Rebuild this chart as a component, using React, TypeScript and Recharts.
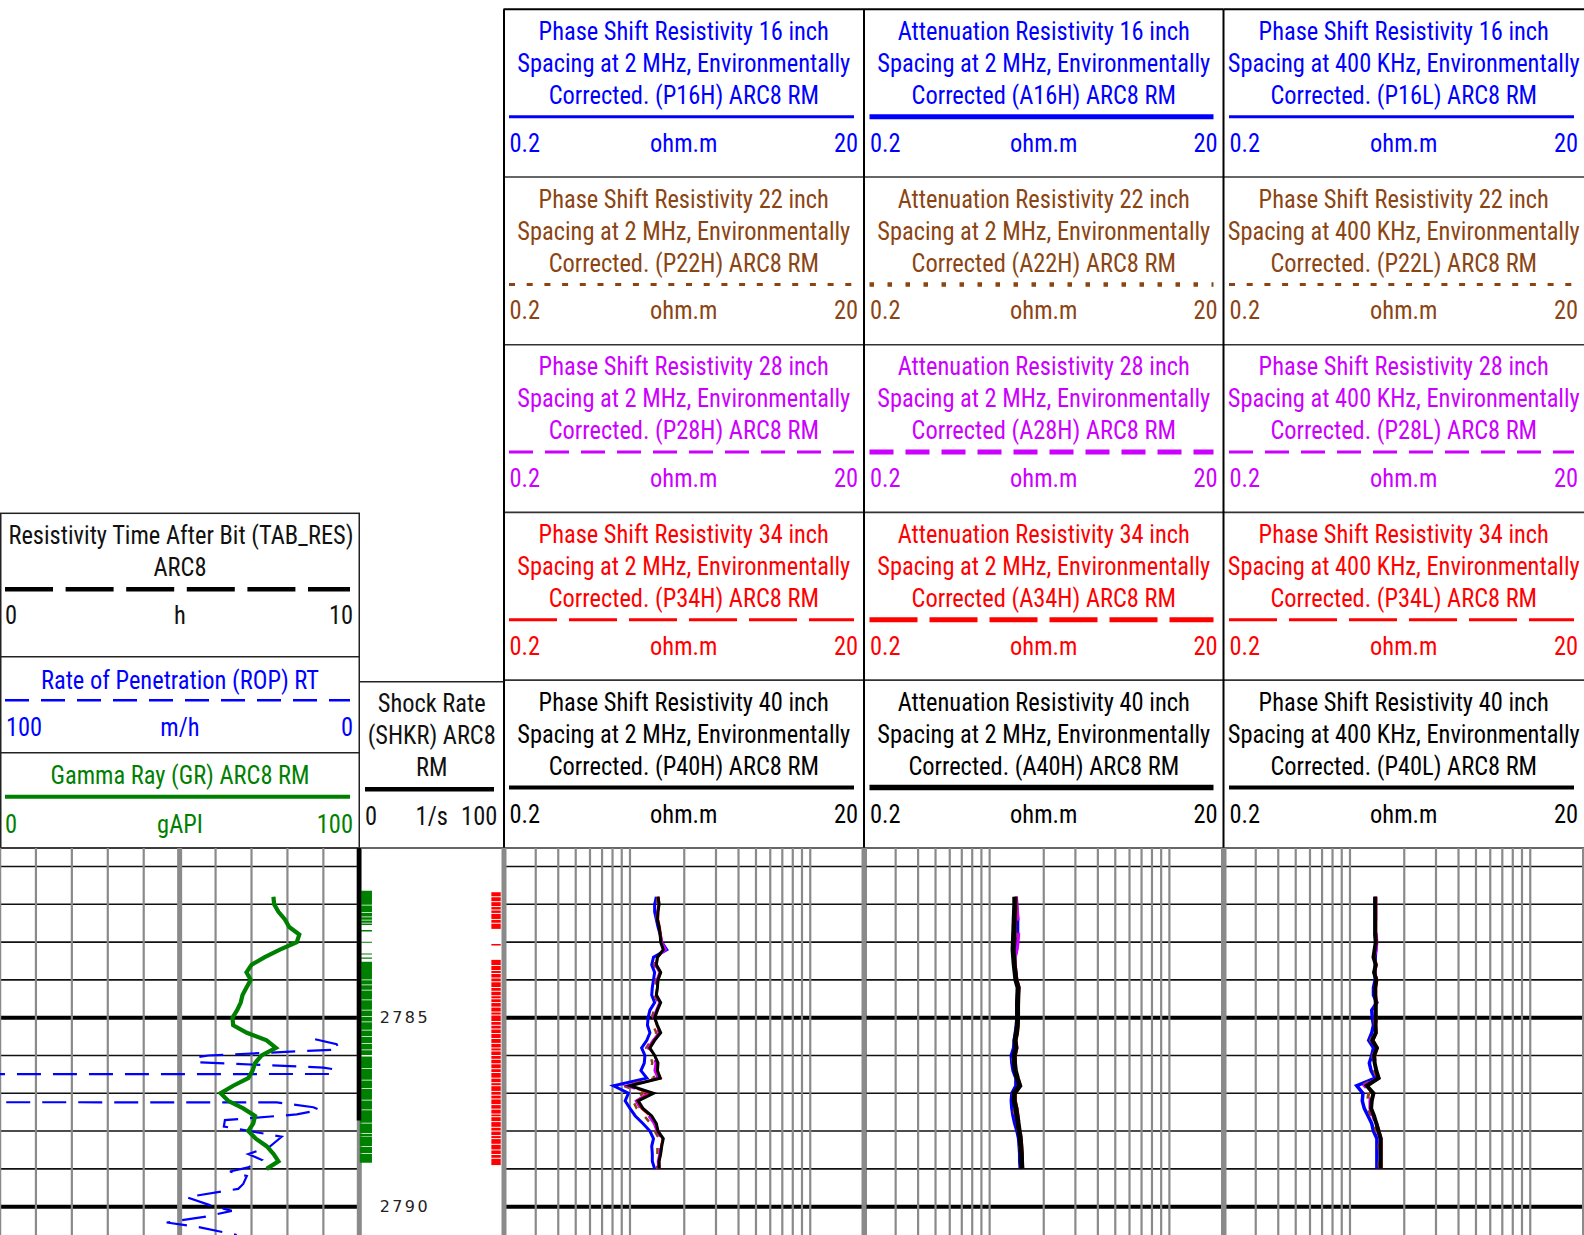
import React from "react";
import { LineChart, Line, XAxis, YAxis, ReferenceLine, ReferenceArea } from "recharts";

const FONT = '"Liberation Sans Narrow", "Arial Narrow", "Roboto Condensed", "DejaVu Sans Condensed", sans-serif';
const SX = 0.94; // horizontal squeeze so the narrow font matches the condensed original
const W = 1584;
const H = 1235;
const PLOT_TOP = 848;
const PLOT_H = H - PLOT_TOP;
const PAD = 6;
const DEPTH_DOMAIN: [number, number] = [2780.51, 2790.75];

// grid + depth labels
const FOOT_LINES = [2781, 2782, 2783, 2784, 2786, 2787, 2788, 2789];
const FIVE_FOOT_LINES = [2785, 2790];
const DEPTH_LABELS = [2785, 2790];
const LOG_GRID = [0.3, 0.4, 0.5, 0.6, 0.7, 0.8, 0.9, 1, 2, 3, 4, 5, 6, 7, 8, 9, 10];
const LIN_GRID = [10, 20, 30, 40, 60, 70, 80, 90];

// depth index shared by GR and the resistivity curves (ft)
const CURVE_DEPTH = [
  2781.8, 2782.0, 2782.2, 2782.4, 2782.6, 2782.8, 2783.0, 2783.2, 2783.4, 2783.6,
  2783.8, 2784.0, 2784.2, 2784.4, 2784.6, 2784.8, 2785.0, 2785.2, 2785.4, 2785.6,
  2785.8, 2786.0, 2786.2, 2786.4, 2786.6, 2786.8, 2787.0, 2787.2, 2787.4, 2787.6,
  2787.8, 2788.0, 2788.2, 2788.4, 2788.6, 2788.8, 2789.0,
];

// gamma ray, gAPI
const GR = [
  76.1, 76.3, 77.5, 79.3, 80.5, 83.3, 82.6, 77.9, 73.7, 70.0, 68.6, 69.8, 68.6, 67.5, 67.0, 66.0, 64.7, 64.9, 68.7,
  74.2, 76.8, 72.8, 71.0, 70.3, 69.1, 64.9, 61.4, 63.5, 67.7, 71.0, 70.5, 69.1, 71.2, 74.2, 76.1, 77.5, 74.2,
];

// rate of penetration, m/h (300 = off scale)
const ROP_DEPTH = [
  2785.57, 2785.7, 2785.84, 2786.0, 2786.05, 2786.18, 2786.32, 2786.37, 2786.49, 2786.5, 2787.23, 2787.24,
  2787.37, 2787.44, 2787.56, 2787.71, 2787.88, 2788.15, 2788.41, 2788.61, 2788.76, 2788.96, 2789.07, 2789.19,
  2789.4, 2789.53, 2789.6, 2789.75, 2789.96, 2790.11, 2790.26, 2790.42, 2790.53, 2790.75,
];
const ROP = [
  12.3, 6.3, 5.6, 42.0, 45.4, 45.3, 10.0, 6.8, 7.2, 300, 300, 23.0, 12.8, 11.1, 17.4, 37.4, 37.7, 21.6, 24.9,
  30.9, 27.2, 30.9, 36.0, 31.3, 32.3, 33.7, 38.3, 48.0, 41.6, 35.5, 42.5, 53.6, 45.3, 34.1,
];

// shock rate, 1/s
const SHKR_DEPTH = [2780.51, 2782.0, 2784.0, 2786.0, 2787.72];
const SHKR = [0, 0, 0, 0, 0];

// flag runs in the depth track (ft) and the thin breaks inside them
const GREEN_RUNS: [number, number][] = [
  [2781.64, 2782.01], [2782.03, 2782.21], [2782.23, 2782.32], [2782.34, 2782.41], [2782.43, 2782.49],
  [2782.51, 2782.55], [2782.68, 2782.72], [2782.99, 2783.02], [2783.3, 2783.33], [2783.41, 2783.44],
  [2783.52, 2785.99], [2786.03, 2788.84],
];
const GREEN_BREAKS = [
  2784.0, 2784.13, 2784.27, 2784.53, 2784.8, 2784.97, 2785.11, 2785.33, 2785.5, 2785.68, 2785.85, 2786.34,
  2786.65, 2786.87, 2787.18, 2787.44, 2787.79, 2788.06, 2788.15, 2788.41, 2788.59,
];
const RED_RUNS: [number, number][] = [[2781.68, 2782.65], [2783.05, 2783.09], [2783.47, 2788.9]];
const RED_BREAKS = [
  2781.8, 2781.93, 2782.06, 2782.15, 2782.24, 2782.4, 2782.5, 2783.62, 2783.75, 2783.83, 2783.95, 2784.05,
  2784.2, 2784.3, 2784.42, 2784.5, 2784.6, 2784.72, 2784.85, 2784.93, 2785.1, 2785.2, 2785.3, 2785.42, 2785.55,
  2785.68, 2785.8, 2785.88, 2786.0, 2786.1, 2786.22, 2786.35, 2786.45, 2786.6, 2786.72, 2786.8, 2786.95, 2787.05,
  2787.15, 2787.3, 2787.42, 2787.55, 2787.62, 2787.75, 2787.9, 2788.0, 2788.12, 2788.2, 2788.35, 2788.5, 2788.62,
  2788.72,
];

// phase shift 2 MHz, ohm.m
const P16H = [1.40, 1.37, 1.37, 1.40, 1.43, 1.47, 1.50, 1.60, 1.35, 1.32, 1.37, 1.35, 1.33, 1.32, 1.37, 1.29, 1.26, 1.25, 1.29, 1.24, 1.16, 1.21, 1.20, 1.15, 1.24, 0.81, 0.98, 0.94, 1.00, 1.07, 1.18, 1.29, 1.35, 1.32, 1.33, 1.33, 1.37];
const P22H = [1.42, 1.41, 1.40, 1.41, 1.44, 1.47, 1.49, 1.56, 1.39, 1.36, 1.43, 1.39, 1.38, 1.36, 1.43, 1.36, 1.32, 1.34, 1.40, 1.31, 1.23, 1.30, 1.33, 1.30, 1.37, 0.92, 1.18, 1.04, 1.09, 1.20, 1.30, 1.37, 1.45, 1.42, 1.42, 1.40, 1.42];
const P28H = [1.43, 1.44, 1.42, 1.42, 1.45, 1.48, 1.50, 1.58, 1.40, 1.38, 1.46, 1.41, 1.40, 1.38, 1.46, 1.40, 1.35, 1.39, 1.45, 1.34, 1.26, 1.34, 1.39, 1.37, 1.43, 0.96, 1.26, 1.08, 1.14, 1.27, 1.36, 1.41, 1.50, 1.47, 1.46, 1.43, 1.44];
const P34H = [1.44, 1.45, 1.43, 1.43, 1.46, 1.48, 1.49, 1.56, 1.42, 1.40, 1.48, 1.43, 1.42, 1.40, 1.48, 1.42, 1.37, 1.41, 1.47, 1.36, 1.28, 1.36, 1.42, 1.41, 1.48, 0.98, 1.31, 1.10, 1.16, 1.30, 1.39, 1.43, 1.52, 1.49, 1.48, 1.45, 1.46];
const P40H = [1.43, 1.45, 1.43, 1.42, 1.45, 1.47, 1.48, 1.53, 1.42, 1.40, 1.48, 1.43, 1.42, 1.40, 1.48, 1.42, 1.37, 1.42, 1.48, 1.37, 1.29, 1.37, 1.43, 1.42, 1.47, 1.00, 1.35, 1.11, 1.18, 1.32, 1.40, 1.43, 1.53, 1.50, 1.48, 1.45, 1.45];

// attenuation 2 MHz, ohm.m
const A16H = [1.40, 1.41, 1.42, 1.43, 1.43, 1.43, 1.42, 1.41, 1.38, 1.38, 1.39, 1.41, 1.44, 1.43, 1.42, 1.42, 1.42, 1.41, 1.39, 1.37, 1.36, 1.32, 1.33, 1.35, 1.40, 1.40, 1.33, 1.32, 1.33, 1.35, 1.38, 1.42, 1.45, 1.46, 1.47, 1.47, 1.48];
const A22H = [1.39, 1.39, 1.40, 1.40, 1.40, 1.40, 1.39, 1.38, 1.37, 1.37, 1.39, 1.40, 1.44, 1.43, 1.42, 1.42, 1.42, 1.41, 1.40, 1.38, 1.38, 1.34, 1.35, 1.37, 1.41, 1.43, 1.35, 1.34, 1.36, 1.38, 1.41, 1.44, 1.46, 1.47, 1.48, 1.49, 1.49];
const A28H = [1.41, 1.42, 1.43, 1.44, 1.45, 1.45, 1.44, 1.42, 1.39, 1.39, 1.40, 1.41, 1.44, 1.44, 1.43, 1.43, 1.43, 1.42, 1.40, 1.39, 1.39, 1.36, 1.36, 1.38, 1.42, 1.45, 1.36, 1.35, 1.38, 1.40, 1.42, 1.45, 1.47, 1.48, 1.49, 1.50, 1.50];
const A34H = [1.40, 1.40, 1.40, 1.39, 1.39, 1.38, 1.38, 1.37, 1.38, 1.39, 1.40, 1.42, 1.46, 1.45, 1.45, 1.45, 1.45, 1.44, 1.43, 1.40, 1.42, 1.39, 1.39, 1.41, 1.44, 1.48, 1.39, 1.39, 1.42, 1.44, 1.46, 1.48, 1.50, 1.51, 1.52, 1.52, 1.53];
const A40H = [1.38, 1.38, 1.375, 1.37, 1.365, 1.36, 1.355, 1.35, 1.36, 1.37, 1.385, 1.40, 1.44, 1.435, 1.43, 1.43, 1.43, 1.425, 1.41, 1.385, 1.40, 1.37, 1.375, 1.39, 1.425, 1.47, 1.37, 1.37, 1.40, 1.42, 1.44, 1.46, 1.48, 1.49, 1.50, 1.505, 1.51];

// phase shift 400 kHz, ohm.m
const P16L = [1.38, 1.38, 1.38, 1.38, 1.38, 1.38, 1.39, 1.39, 1.38, 1.38, 1.38, 1.38, 1.35, 1.35, 1.41, 1.32, 1.33, 1.35, 1.32, 1.27, 1.35, 1.32, 1.28, 1.31, 1.38, 1.09, 1.18, 1.17, 1.20, 1.26, 1.32, 1.35, 1.41, 1.41, 1.41, 1.41, 1.41];
const P22L = [1.38, 1.38, 1.38, 1.38, 1.38, 1.38, 1.39, 1.38, 1.36, 1.38, 1.37, 1.39, 1.37, 1.37, 1.40, 1.36, 1.36, 1.37, 1.36, 1.30, 1.38, 1.34, 1.33, 1.36, 1.41, 1.16, 1.27, 1.25, 1.26, 1.31, 1.36, 1.40, 1.45, 1.45, 1.45, 1.45, 1.45];
const P28L = [1.39, 1.39, 1.39, 1.39, 1.39, 1.40, 1.41, 1.40, 1.36, 1.39, 1.37, 1.40, 1.38, 1.38, 1.39, 1.38, 1.38, 1.38, 1.38, 1.32, 1.40, 1.35, 1.35, 1.38, 1.43, 1.20, 1.31, 1.29, 1.29, 1.34, 1.38, 1.42, 1.47, 1.47, 1.47, 1.47, 1.47];
const P34L = [1.39, 1.39, 1.39, 1.39, 1.39, 1.39, 1.40, 1.38, 1.36, 1.40, 1.37, 1.41, 1.39, 1.39, 1.40, 1.40, 1.40, 1.39, 1.40, 1.34, 1.42, 1.37, 1.38, 1.40, 1.45, 1.23, 1.34, 1.32, 1.31, 1.36, 1.41, 1.45, 1.49, 1.49, 1.49, 1.49, 1.49];
const P40L = [1.38, 1.38, 1.38, 1.38, 1.38, 1.38, 1.39, 1.37, 1.35, 1.39, 1.36, 1.40, 1.38, 1.38, 1.39, 1.39, 1.39, 1.385, 1.39, 1.33, 1.41, 1.36, 1.37, 1.40, 1.44, 1.24, 1.35, 1.32, 1.31, 1.36, 1.40, 1.44, 1.48, 1.48, 1.48, 1.48, 1.48];

const SPACINGS = [16, 22, 28, 34, 40];
const SPACING_COLORS = ["#0000ff", "#8b4513", "#cc00ff", "#ff0000", "#000000"];
const GRID_GRAY = "#8a8a8a";

// track columns
const X_LOG: [number, number] = [0, 359.3];
const X_DEPTH: [number, number] = [359.3, 503.5];
const ROW_TOP0 = 9.3;
const ROW_H = 167.7;

const RES_TRACKS = [
  {
    x0: 503.5, x1: 864, kind: "Phase Shift Resistivity", freq: "2 MHz", code: (s: number) => `Corrected. (P${s}H) ARC8 RM`,
    series: [P16H, P22H, P28H, P34H, P40H],
    headerWidths: [3, 3, 3, 3, 4], headerDash: [undefined, "6 11.7", "24 12", "48 12", undefined],
    curveWidths: [3, 2.5, 2.5, 2.5, 3],
  },
  {
    x0: 864, x1: 1223.5, kind: "Attenuation Resistivity", freq: "2 MHz", code: (s: number) => `Corrected${s === 40 ? "." : ""} (A${s}H) ARC8 RM`,
    series: [A16H, A22H, A28H, A34H, A40H],
    headerWidths: [5, 4.5, 5, 5, 5.5], headerDash: [undefined, "4.5 13.5", "24 12", "48 12", undefined],
    curveWidths: [3.5, 3, 3, 3, 5],
  },
  {
    x0: 1223.5, x1: 1584, kind: "Phase Shift Resistivity", freq: "400 KHz", code: (s: number) => `Corrected. (P${s}L) ARC8 RM`,
    series: [P16L, P22L, P28L, P34L, P40L],
    headerWidths: [3, 3, 3, 3, 4], headerDash: [undefined, "6 11.7", "24 12", "48 12", undefined],
    curveWidths: [3.5, 3, 3, 3, 4],
  },
];

function splitRuns(runs: [number, number][], breaks: number[], gap: number) {
  const out: [number, number][] = [];
  runs.forEach(([a, b]) => {
    let start = a;
    breaks.filter((d) => d > a && d < b).forEach((d) => {
      out.push([start, d - gap / 2]);
      start = d + gap / 2;
    });
    out.push([start, b]);
  });
  return out;
}

// text squeezed horizontally around its anchor point
function T({ x, y, anchor = "start", children }: { x: number; y: number; anchor?: "start" | "middle" | "end"; children: React.ReactNode }) {
  return (
    <text transform={`translate(${x} ${y}) scale(${SX} 1)`} textAnchor={anchor}>
      {children}
    </text>
  );
}

function Header() {
  const txt = { fontFamily: FONT, fontSize: 26 } as const;
  return (
    <svg width={W} height={PLOT_TOP + 2} style={{ position: "absolute", left: 0, top: 0 }}>
      {RES_TRACKS.map((t, ti) => {
        const cx = (t.x0 + t.x1) / 2;
        return SPACINGS.map((s, si) => {
          const top = ROW_TOP0 + si * ROW_H;
          const color = SPACING_COLORS[si];
          const lines = [`${t.kind} ${s} inch`, `Spacing at ${t.freq}, Environmentally`, t.code(s)];
          return (
            <g key={`${ti}-${si}`} {...txt} fill={color}>
              <line x1={t.x0} x2={t.x1} y1={top} y2={top} stroke={si === 0 ? "#000" : "#333"} strokeWidth={si === 0 ? 2 : 1.6} />
              {lines.map((l, li) => (
                <T key={li} x={cx} y={top + 30.7 + li * 32} anchor="middle">{l}</T>
              ))}
              <line x1={t.x0 + 5.5} x2={t.x1 - 10} y1={top + 107.4} y2={top + 107.4} stroke={color}
                strokeWidth={t.headerWidths[si]} strokeDasharray={t.headerDash[si]} />
              <T x={t.x0 + 6} y={top + 142.4}>0.2</T>
              <T x={cx} y={top + 142.4} anchor="middle">ohm.m</T>
              <T x={t.x1 - 6} y={top + 142.4} anchor="end">20</T>
            </g>
          );
        });
      })}
      {RES_TRACKS.map((t) => (
        <line key={t.x0} x1={t.x0 + (t.x0 === 503.5 ? 0.5 : 0)} x2={t.x0 + (t.x0 === 503.5 ? 0.5 : 0)} y1={ROW_TOP0} y2={PLOT_TOP} stroke="#000" strokeWidth={2} />
      ))}

      {/* left header boxes */}
      <g {...txt}>
        <rect x={0.75} y={513.3} width={358.5} height={PLOT_TOP - 513.3} fill="none" stroke="#222" strokeWidth={1.5} />
        <line x1={0} x2={359.3} y1={656.7} y2={656.7} stroke="#222" strokeWidth={1.5} />
        <line x1={0} x2={359.3} y1={752.7} y2={752.7} stroke="#222" strokeWidth={1.5} />
        <line x1={359.3} x2={503.5} y1={681.7} y2={681.7} stroke="#222" strokeWidth={1.5} />

        <g fill="#111">
          <T x={181} y={544} anchor="middle">Resistivity Time After Bit (TAB_RES)</T>
          <T x={180} y={576} anchor="middle">ARC8</T>
          <T x={5} y={624}>0</T>
          <T x={180} y={624} anchor="middle">h</T>
          <T x={353} y={624} anchor="end">10</T>
        </g>
        <line x1={5} x2={350} y1={589.3} y2={589.3} stroke="#000" strokeWidth={4.5} strokeDasharray="48 12.6" />

        <g fill="#0000ff">
          <T x={180} y={689.3} anchor="middle">Rate of Penetration (ROP) RT</T>
          <T x={6} y={736}>100</T>
          <T x={180} y={736} anchor="middle">m/h</T>
          <T x={353} y={736} anchor="end">0</T>
        </g>
        <line x1={5} x2={350} y1={700.3} y2={700.3} stroke="#0000ff" strokeWidth={2.5} strokeDasharray="24 12" />

        <g fill="#008000">
          <T x={180} y={784} anchor="middle">Gamma Ray (GR) ARC8 RM</T>
          <T x={5} y={832.7}>0</T>
          <T x={180} y={832.7} anchor="middle">gAPI</T>
          <T x={353} y={832.7} anchor="end">100</T>
        </g>
        <line x1={5} x2={350} y1={796.7} y2={796.7} stroke="#008000" strokeWidth={4} />

        <g fill="#111">
          <T x={431.7} y={712.3} anchor="middle">Shock Rate</T>
          <T x={431.7} y={744} anchor="middle">(SHKR) ARC8</T>
          <T x={431.7} y={775.7} anchor="middle">RM</T>
          <T x={365} y={825}>0</T>
          <T x={431.7} y={825} anchor="middle">1/s</T>
          <T x={497.3} y={825} anchor="end">100</T>
        </g>
        <line x1={365} x2={494} y1={789.3} y2={789.3} stroke="#000" strokeWidth={4.5} />
      </g>
      <line x1={0} x2={W} y1={PLOT_TOP} y2={PLOT_TOP} stroke="#333" strokeWidth={1.6} />
    </svg>
  );
}

function depthGrid(axisId?: string) {
  const ids = axisId ? { xAxisId: axisId } : {};
  return [
    ...FOOT_LINES.map((d) => <ReferenceLine key={`f${d}`} {...ids} y={d} stroke="#111" strokeWidth={1.6} />),
    ...FIVE_FOOT_LINES.map((d) => <ReferenceLine key={`F${d}`} {...ids} y={d} stroke="#000" strokeWidth={4} />),
  ];
}

function LogTrack() {
  const rows = CURVE_DEPTH.map((depth, i) => ({ depth, gr: GR[i] }));
  const ropRows = ROP_DEPTH.map((depth, i) => ({ depth, rop: ROP[i] }));
  const w = X_LOG[1] - X_LOG[0];
  return (
    <div style={{ position: "absolute", left: X_LOG[0] - PAD, top: PLOT_TOP }}>
      <LineChart layout="vertical" width={w + 2 * PAD} height={PLOT_H} data={rows}
        margin={{ top: 0, right: PAD, bottom: 0, left: PAD }}>
        <XAxis xAxisId="gr" type="number" domain={[0, 100]} hide />
        <XAxis xAxisId="rop" type="number" domain={[0, 100]} reversed allowDataOverflow hide />
        <YAxis type="number" dataKey="depth" domain={DEPTH_DOMAIN} hide />
        {depthGrid("gr")}
        {LIN_GRID.map((v) => <ReferenceLine key={v} xAxisId="gr" x={v} stroke={GRID_GRAY} strokeWidth={2.2} />)}
        <ReferenceLine xAxisId="gr" x={50} stroke={GRID_GRAY} strokeWidth={5} />
        <ReferenceLine xAxisId="gr" x={0} stroke={GRID_GRAY} strokeWidth={2.5} />
        <ReferenceLine xAxisId="gr" x={100} stroke={GRID_GRAY} strokeWidth={5} />
        <Line xAxisId="rop" data={ropRows} dataKey="rop" stroke="#0000ff" strokeWidth={2.2} strokeDasharray="24 12"
          dot={false} isAnimationActive={false} />
        <Line xAxisId="gr" dataKey="gr" stroke="#008000" strokeWidth={4.2} dot={false} isAnimationActive={false} />
      </LineChart>
    </div>
  );
}

function DepthTrack() {
  const rows = SHKR_DEPTH.map((depth, i) => ({ depth, shkr: SHKR[i] }));
  const green = splitRuns(GREEN_RUNS, GREEN_BREAKS, 0.018);
  const red = splitRuns(RED_RUNS, RED_BREAKS, 0.025);
  const w = X_DEPTH[1] - X_DEPTH[0];
  return (
    <div style={{ position: "absolute", left: X_DEPTH[0] - PAD, top: PLOT_TOP }}>
      <LineChart layout="vertical" width={w + 2 * PAD} height={PLOT_H} data={rows}
        margin={{ top: 0, right: PAD, bottom: 0, left: PAD }}>
        <XAxis type="number" domain={[0, 100]} hide />
        <YAxis type="number" dataKey="depth" domain={DEPTH_DOMAIN} hide />
        {green.map(([a, b], i) => (
          <ReferenceArea key={`g${i}`} x1={0.5} x2={9} y1={a} y2={b} fill="#008000" fillOpacity={1} stroke="none" />
        ))}
        {red.map(([a, b], i) => (
          <ReferenceArea key={`r${i}`} x1={91.8} x2={98.3} y1={a} y2={b} fill="#ff0000" fillOpacity={1} stroke="none" />
        ))}
        {DEPTH_LABELS.map((d) => (
          <ReferenceLine key={d} y={d} stroke="none"
            label={{ value: String(d), position: "insideLeft", offset: 20.7, fill: "#222", fontSize: 16,
              fontFamily: "DejaVu Sans", letterSpacing: 2.4 }} />
        ))}
        <Line dataKey="shkr" stroke="#000" strokeWidth={4.5} dot={false} isAnimationActive={false} />
      </LineChart>
    </div>
  );
}

function ResistivityTrack({ track }: { track: (typeof RES_TRACKS)[number] }) {
  const rows = CURVE_DEPTH.map((depth, i) => {
    const r: Record<string, number> = { depth };
    track.series.forEach((s, k) => (r[`c${k}`] = s[i]));
    return r;
  });
  const w = track.x1 - track.x0;
  return (
    <div style={{ position: "absolute", left: track.x0 - PAD, top: PLOT_TOP }}>
      <LineChart layout="vertical" width={w + 2 * PAD} height={PLOT_H} data={rows}
        margin={{ top: 0, right: PAD, bottom: 0, left: PAD }}>
        <XAxis type="number" scale="log" domain={[0.2, 20]} hide />
        <YAxis type="number" dataKey="depth" domain={DEPTH_DOMAIN} hide />
        {depthGrid()}
        {LOG_GRID.map((v) => <ReferenceLine key={v} x={v} stroke={GRID_GRAY} strokeWidth={2.2} />)}
        <ReferenceLine x={0.2} stroke={GRID_GRAY} strokeWidth={5} />
        <ReferenceLine x={20} stroke={GRID_GRAY} strokeWidth={5} />
        {track.series.map((_, k) => (
          <Line key={k} dataKey={`c${k}`} stroke={SPACING_COLORS[k]} strokeWidth={track.curveWidths[k]}
            strokeDasharray={track.headerDash[k]} dot={false} isAnimationActive={false} />
        ))}
      </LineChart>
    </div>
  );
}

export default function App() {
  return (
    <div style={{ position: "absolute", left: 0, top: 0, width: W, height: H, background: "#fff", overflow: "hidden" }}>
      <Header />
      <LogTrack />
      <DepthTrack />
      {RES_TRACKS.map((t) => <ResistivityTrack key={t.x0} track={t} />)}
    </div>
  );
}
